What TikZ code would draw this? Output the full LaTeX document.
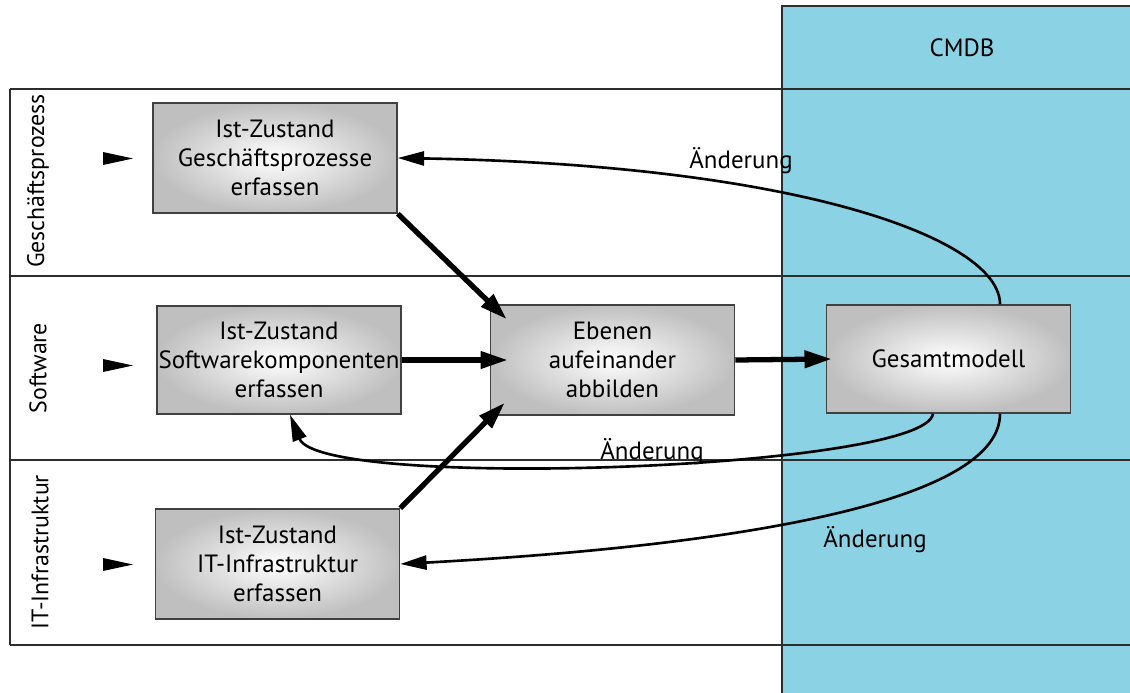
\documentclass[tikz,border=0pt]{standalone}
\usepackage{fontspec}
\setmainfont{PT Sans}
\usetikzlibrary{arrows.meta,calc}
\definecolor{cmdbblue}{RGB}{138,210,228}
\definecolor{rule}{RGB}{45,45,45}

\begin{document}
\begin{tikzpicture}[x=0.02cm,y=-0.02cm,
  lane/.style={draw=rule,line width=1.1pt},
  procbox/.style={draw=black!75,line width=0.9pt,inner color=white,outer color=black!25,
    minimum width=4.88cm,minimum height=2.2cm,align=center,inner sep=1pt,
    font=\fontsize{14.2}{16.4}\selectfont},
  lanelabel/.style={rotate=90,font=\fontsize{13.6}{16}\selectfont},
  plain/.style={font=\fontsize{14.2}{16}\selectfont},
  flow/.style={line width=3pt,-{Triangle[length=15.5pt,width=9.5pt]}},
  change/.style={line width=1.5pt,-{Triangle[length=15pt,width=8pt]}},
  startmark/.style={fill=black}
]
\useasboundingbox (0,0) rectangle (1130,693);

% CMDB column
\fill[cmdbblue] (782,6) rectangle (1130,693);
\draw[lane] (782,693) -- (782,6) -- (1130,6);
\node[plain] (cmdb) at (962,48) {CMDB};

% swim lanes
\draw[lane] (10,89) -- (1130,89);
\draw[lane] (10,276) -- (1130,276);
\draw[lane] (10,460) -- (1130,460);
\draw[lane] (10,645) -- (1130,645);
\draw[lane] (10,89) -- (10,645);

\node[lanelabel] (l1) at (38,181) {Geschäftsprozess};
\node[lanelabel] (l2) at (38,368) {Software};
\node[lanelabel] (l3) at (40,552) {IT-Infrastruktur};

% start markers
\fill[startmark] (103,152) -- (133,158.5) -- (103,165) -- cycle;
\fill[startmark] (103,359) -- (133,365.5) -- (103,372) -- cycle;
\fill[startmark] (103,558) -- (133,564.5) -- (103,571) -- cycle;

% process boxes
\node[procbox] (b1) at (275,158) {Ist-Zustand\\Geschäftsprozesse\\erfassen};
\node[procbox,minimum height=2.16cm] (b2) at (279,360) {Ist-Zustand\\Softwarekomponenten\\erfassen};
\node[procbox] (b3) at (277.5,564) {Ist-Zustand\\IT-Infrastruktur\\erfassen};
\node[procbox] (e) at (612.5,360) {Ebenen\\aufeinander\\abbilden};
\node[procbox,minimum height=2.16cm] (g) at (948.5,359) {Gesamtmodell};

% main flow
\draw[flow] (b1.south east) -- ($(e.north west)+(17,15)$);
\draw[flow] (b2.east) -- ($(e.west)+(18,0)$);
\draw[flow] (b3.north east) -- ($(e.south west)+(15,-13)$);
\draw[flow] (e.east) -- ($(g.west)+(6,0)$);

% change feedback
\draw[change] ($(g.north)+(51.5,0)$) .. controls +(0,-65) and +(403,7) .. (b1.east);
\draw[change] ($(g.south)+(-15.5,0)$) .. controls +(-8,56) and +(30,76) .. ($(b2.south)+(11,0)$);
\draw[change] ($(g.south)+(51.5,0)$) .. controls +(0,86) and +(350,-19) .. (b3.east);

\node[plain] (c1) at (741,161) {Änderung};
\node[plain] (c2) at (652,452) {Änderung};
\node[plain] (c3) at (875,540) {Änderung};
\end{tikzpicture}
\end{document}
